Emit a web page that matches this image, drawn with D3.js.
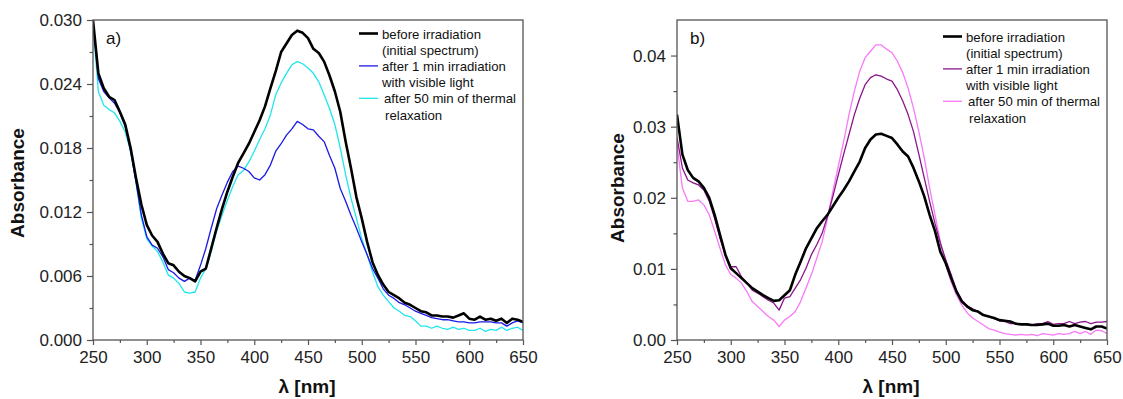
<!DOCTYPE html>
<html>
<head>
<meta charset="utf-8">
<script src="https://cdn.jsdelivr.net/npm/d3@7"></script>
<style>
  body { margin: 0; background: #fff; }
  svg { display: block; font-family: "Liberation Sans", Arial, sans-serif; }
</style>
</head>
<body>
<svg id="chart" width="1123" height="399"></svg>
<script>
// wavelength grid (nm), read every 5 nm
const wavelengths = [250,255,260,265,270,275,280,285,290,295,300,305,310,315,320,325,330,335,340,345,
  350,355,360,365,370,375,380,385,390,395,400,405,410,415,420,425,430,435,440,445,
  450,455,460,465,470,475,480,485,490,495,500,505,510,515,520,525,530,535,540,545,
  550,555,560,565,570,575,580,585,590,595,600,605,610,615,620,625,630,635,640,645,650];

// panel a)
const aBefore = [0.0300,0.0250,0.0236,0.0228,0.0225,0.0214,0.0202,0.0180,0.0152,0.0127,0.0108,0.0098,0.0092,0.0081,0.0072,0.0070,0.0064,0.0060,0.0058,0.0055,
  0.0064,0.0067,0.0086,0.0105,0.0123,0.0139,0.0153,0.0166,0.0175,0.0184,0.0195,0.0206,0.0219,0.0236,0.0252,0.0270,0.0278,0.0286,0.0290,0.0288,
  0.0283,0.0273,0.0269,0.0261,0.0248,0.0233,0.0214,0.0186,0.0161,0.0134,0.0114,0.0092,0.0073,0.0061,0.0052,0.0045,0.0042,0.0039,0.0035,0.0033,
  0.0030,0.0027,0.0026,0.0023,0.0023,0.0022,0.0022,0.0021,0.0023,0.0025,0.0020,0.0019,0.0022,0.0019,0.0020,0.0018,0.0020,0.0016,0.0020,0.0019,0.0017];
const aIrradiated = [0.0300,0.0245,0.0233,0.0227,0.0222,0.0213,0.0200,0.0177,0.0148,0.0117,0.0097,0.0089,0.0086,0.0078,0.0066,0.0063,0.0058,0.0055,0.0058,0.0056,
  0.0070,0.0086,0.0105,0.0123,0.0136,0.0148,0.0158,0.0163,0.0161,0.0158,0.0152,0.0150,0.0155,0.0164,0.0177,0.0184,0.0192,0.0198,0.0205,0.0202,
  0.0198,0.0197,0.0191,0.0186,0.0173,0.0161,0.0142,0.0130,0.0117,0.0105,0.0092,0.0080,0.0067,0.0058,0.0048,0.0042,0.0039,0.0035,0.0033,0.0030,
  0.0027,0.0025,0.0023,0.0021,0.0020,0.0019,0.0019,0.0018,0.0017,0.0017,0.0016,0.0016,0.0017,0.0017,0.0017,0.0016,0.0016,0.0013,0.0016,0.0018,0.0016];
const aRelaxed = [0.0295,0.0233,0.0220,0.0216,0.0213,0.0205,0.0195,0.0177,0.0148,0.0114,0.0095,0.0088,0.0083,0.0073,0.0061,0.0058,0.0053,0.0045,0.0044,0.0045,
  0.0058,0.0067,0.0083,0.0102,0.0117,0.0131,0.0144,0.0155,0.0159,0.0167,0.0177,0.0188,0.0198,0.0211,0.0230,0.0241,0.0250,0.0258,0.0261,0.0259,
  0.0255,0.0250,0.0242,0.0230,0.0217,0.0202,0.0180,0.0155,0.0133,0.0114,0.0095,0.0080,0.0064,0.0050,0.0042,0.0036,0.0030,0.0027,0.0023,0.0022,
  0.0018,0.0013,0.0013,0.0011,0.0013,0.0011,0.0010,0.0012,0.0010,0.0011,0.0009,0.0009,0.0011,0.0008,0.0010,0.0009,0.0012,0.0009,0.0011,0.0012,0.0009];

// panel b)
const bBefore = [0.0317,0.0261,0.0239,0.0228,0.0223,0.0214,0.0200,0.0176,0.0148,0.0120,0.0101,0.0094,0.0087,0.0080,0.0073,0.0068,0.0063,0.0059,0.0055,0.0056,
  0.0063,0.0070,0.0092,0.0110,0.0129,0.0143,0.0157,0.0167,0.0176,0.0188,0.0200,0.0211,0.0223,0.0237,0.0251,0.0270,0.0282,0.0289,0.0290,0.0287,
  0.0284,0.0275,0.0265,0.0258,0.0242,0.0223,0.0202,0.0176,0.0153,0.0124,0.0108,0.0087,0.0068,0.0054,0.0047,0.0042,0.0040,0.0035,0.0033,0.0031,
  0.0028,0.0027,0.0026,0.0023,0.0022,0.0022,0.0021,0.0021,0.0022,0.0023,0.0020,0.0020,0.0021,0.0019,0.0021,0.0019,0.0017,0.0015,0.0019,0.0019,0.0016];
const bIrradiated = [0.0285,0.0242,0.0225,0.0221,0.0218,0.0211,0.0195,0.0171,0.0143,0.0120,0.0103,0.0103,0.0089,0.0080,0.0070,0.0066,0.0061,0.0056,0.0052,0.0042,
  0.0059,0.0061,0.0073,0.0085,0.0101,0.0120,0.0134,0.0150,0.0174,0.0202,0.0232,0.0261,0.0289,0.0317,0.0340,0.0359,0.0369,0.0373,0.0371,0.0367,
  0.0364,0.0352,0.0336,0.0317,0.0293,0.0261,0.0228,0.0195,0.0164,0.0136,0.0113,0.0092,0.0070,0.0056,0.0048,0.0044,0.0040,0.0035,0.0033,0.0030,
  0.0027,0.0026,0.0023,0.0023,0.0022,0.0023,0.0021,0.0023,0.0023,0.0026,0.0022,0.0023,0.0023,0.0026,0.0023,0.0025,0.0026,0.0023,0.0025,0.0025,0.0026];
const bRelaxed = [0.0275,0.0214,0.0195,0.0195,0.0197,0.0190,0.0176,0.0153,0.0129,0.0106,0.0092,0.0087,0.0080,0.0068,0.0054,0.0047,0.0040,0.0033,0.0028,0.0019,
  0.0028,0.0033,0.0040,0.0054,0.0073,0.0092,0.0115,0.0138,0.0171,0.0209,0.0244,0.0279,0.0317,0.0350,0.0378,0.0397,0.0406,0.0415,0.0415,0.0409,
  0.0404,0.0392,0.0376,0.0354,0.0326,0.0293,0.0256,0.0214,0.0176,0.0138,0.0106,0.0082,0.0063,0.0049,0.0038,0.0031,0.0026,0.0021,0.0016,0.0014,
  0.0011,0.0009,0.0008,0.0007,0.0008,0.0007,0.0008,0.0006,0.0009,0.0008,0.0007,0.0009,0.0008,0.0009,0.0012,0.0009,0.0012,0.0008,0.0014,0.0013,0.0009];

// axes
const xTicks = [250,300,350,400,450,500,550,600,650];
const xMinor = [275,325,375,425,475,525,575,625];
const aYTicks = [0,0.006,0.012,0.018,0.024,0.030];
const aYMinor = [0.003,0.009,0.015,0.021,0.027];
const bYTicks = [0,0.01,0.02,0.03,0.04];
const bYMinor = [0.005,0.015,0.025,0.035];

const legendLabels = [
  ["before irradiation", "(initial spectrum)"],
  ["after 1 min irradiation", "with visible light"],
  ["after 50 min of thermal", "relaxation"]
];

const svg = d3.select("#chart");
svg.append("rect").attr("width", 1123).attr("height", 399).attr("fill", "#fff");

function drawPanel(p) {
  const x = d3.scaleLinear().domain([250, 650]).range([p.left, p.right]);
  const y = d3.scaleLinear().domain([0, p.yMax]).range([p.bottom, p.top]);
  const g = svg.append("g");

  g.append("clipPath").attr("id", p.id + "-clip")
    .append("rect")
    .attr("x", p.left).attr("y", p.top)
    .attr("width", p.right - p.left).attr("height", p.bottom - p.top);

  const line = d3.line()
    .x((d, i) => x(wavelengths[i]))
    .y(d => y(d));

  // thin lines first, black on top
  p.series.slice().reverse().forEach(s => {
    g.append("path")
      .attr("clip-path", `url(#${p.id}-clip)`)
      .attr("d", line(s.values))
      .attr("fill", "none")
      .attr("stroke", s.color)
      .attr("stroke-width", s.width)
      .attr("stroke-linejoin", "round");
  });

  // frame
  g.append("rect")
    .attr("x", p.left).attr("y", p.top)
    .attr("width", p.right - p.left).attr("height", p.bottom - p.top)
    .attr("fill", "none").attr("stroke", "#555").attr("stroke-width", 1.3);

  const styleAxis = sel => {
    sel.select(".domain").remove();
    sel.selectAll("line").attr("stroke", "#555").attr("stroke-width", 1.2);
    sel.selectAll("text").attr("fill", "#222").style("font-size", "17px")
      .style("font-family", "'Liberation Sans', Arial, sans-serif");
  };

  g.append("g").attr("transform", `translate(0,${p.bottom})`)
    .call(d3.axisBottom(x).tickValues(xTicks).tickFormat(d3.format("d")).tickSize(5).tickPadding(6))
    .call(styleAxis);
  g.append("g").attr("transform", `translate(0,${p.bottom})`)
    .call(d3.axisBottom(x).tickValues(xMinor).tickFormat("").tickSize(3))
    .call(styleAxis);
  g.append("g").attr("transform", `translate(${p.left},0)`)
    .call(d3.axisLeft(y).tickValues(p.yTicks).tickFormat(d3.format(p.fmt)).tickSize(6).tickPadding(5))
    .call(styleAxis);
  g.append("g").attr("transform", `translate(${p.left},0)`)
    .call(d3.axisLeft(y).tickValues(p.yMinor).tickFormat("").tickSize(3.5))
    .call(styleAxis);

  // panel label
  g.append("text").attr("x", p.left + 13).attr("y", p.top + 24)
    .style("font-size", "17px").attr("fill", "#111").text(p.label);

  // axis titles
  g.append("text")
    .attr("transform", `translate(${p.yTitleX},${p.yTitleY}) rotate(-90)`)
    .attr("text-anchor", "middle")
    .style("font-size", "19px").style("font-weight", "bold").attr("fill", "#111")
    .text("Absorbance");
  g.append("text")
    .attr("x", (p.left + p.right) / 2 - 1).attr("y", 393)
    .attr("text-anchor", "middle")
    .style("font-size", "19px").style("font-weight", "bold").attr("fill", "#111")
    .text("λ [nm]");

  // legend
  const lg = g.append("g").attr("transform", `translate(${p.legendX},${p.legendY})`);
  p.series.forEach((s, i) => {
    const yy = i * p.legendStep * 2;
    lg.append("line")
      .attr("x1", 0).attr("x2", 19).attr("y1", yy).attr("y2", yy)
      .attr("stroke", s.color).attr("stroke-width", s.width);
    legendLabels[i].forEach((t, j) => {
      lg.append("text")
        .attr("x", 23 + (i === 2 ? 2 + j : 0))
        .attr("y", yy + j * p.legendStep + 5)
        .style("font-size", "13.2px").attr("fill", "#111")
        .text(t);
    });
  });
}

drawPanel({
  id: "a", left: 93, right: 523, top: 20, bottom: 340, yMax: 0.030,
  yTicks: aYTicks, yMinor: aYMinor, fmt: ".3f", label: "a)",
  yTitleX: 24, yTitleY: 183,
  legendX: 359, legendY: 33.5, legendStep: 16.2,
  series: [
    { values: aBefore, color: "#000000", width: 2.6 },
    { values: aIrradiated, color: "#1a1ae6", width: 1.3 },
    { values: aRelaxed, color: "#1fe6ee", width: 1.3 }
  ]
});

drawPanel({
  id: "b", left: 677, right: 1107, top: 20, bottom: 340, yMax: 0.045,
  yTicks: bYTicks, yMinor: bYMinor, fmt: ".2f", label: "b)",
  yTitleX: 624, yTitleY: 188,
  legendX: 943, legendY: 36.5, legendStep: 16.2,
  series: [
    { values: bBefore, color: "#000000", width: 2.6 },
    { values: bIrradiated, color: "#8a168a", width: 1.3 },
    { values: bRelaxed, color: "#f77af7", width: 1.3 }
  ]
});
</script>
</body>
</html>
